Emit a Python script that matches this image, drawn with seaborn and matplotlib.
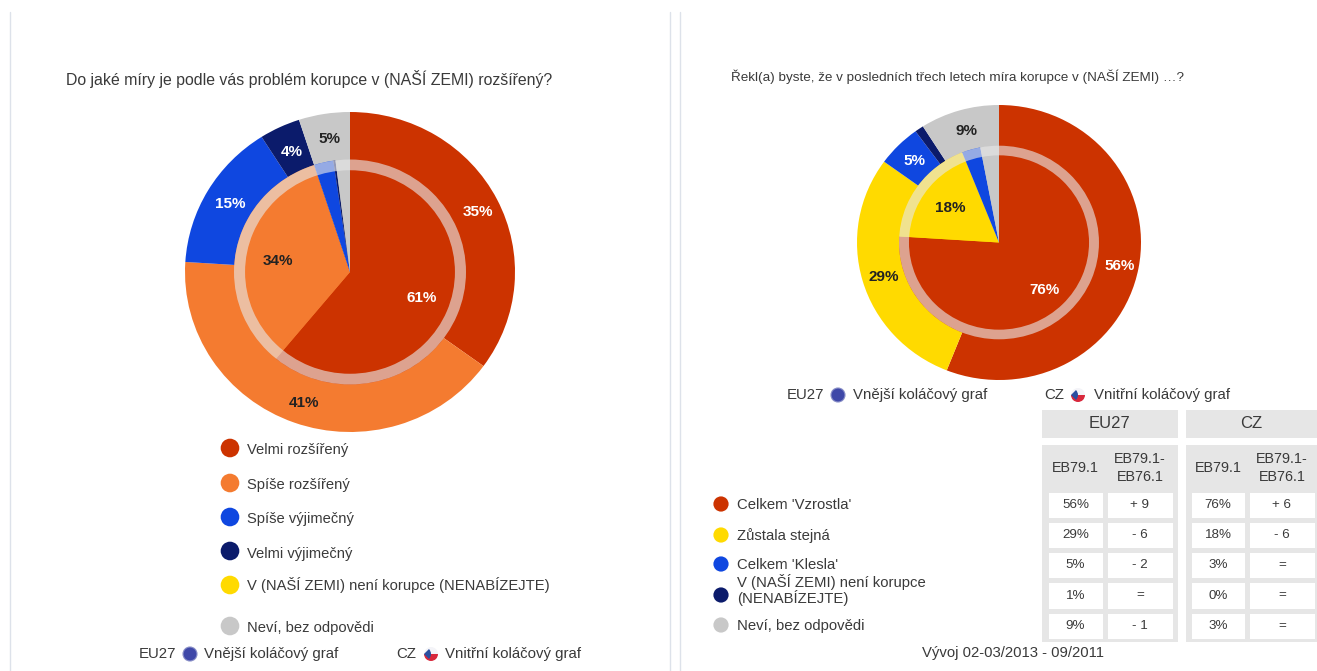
#!/usr/bin/env python3
"""Two nested corruption pie charts (EU27 outside, CZ inside) with legends and a table."""

import numpy as np
import pandas as pd
import matplotlib
matplotlib.use("Agg")
import matplotlib.pyplot as plt
from matplotlib.colors import ListedColormap
from matplotlib.patches import Circle, Rectangle, Wedge
import seaborn as sns

W, H = 1317, 671

RED = "#CC3300"
ORANGE = "#F47B30"
BLUE = "#0F47E0"
NAVY = "#0B1B6B"
YELLOW = "#FFDA00"
GREY = "#C8C8C8"
TEXT = "#3A3A3A"

# left chart
left_title = "Do jaké míry je podle vás problém korupce v (NAŠÍ ZEMI) rozšířený?"
left_categories = ["Velmi rozšířený", "Spíše rozšířený", "Spíše výjimečný", "Velmi výjimečný",
                   "V (NAŠÍ ZEMI) není korupce (NENABÍZEJTE)", "Neví, bez odpovědi"]
left_colors = [RED, ORANGE, BLUE, NAVY, YELLOW, GREY]
left_eu27 = [35, 41, 15, 4, 0, 5]
left_cz = [61, 34, 2.7, 0.3, 0, 2]

# right chart
right_title = "Řekl(a) byste, že v posledních třech letech míra korupce v (NAŠÍ ZEMI) …?"
right_categories = ["Celkem 'Vzrostla'", "Zůstala stejná", "Celkem 'Klesla'",
                    "V (NAŠÍ ZEMI) není korupce\n(NENABÍZEJTE)", "Neví, bez odpovědi"]
right_colors = [RED, YELLOW, BLUE, NAVY, GREY]
right_eu27 = [56, 29, 5, 1, 9]
right_cz = [76, 18, 3, 0, 3]

# table columns
eu27_now = ["56%", "29%", "5%", "1%", "9%"]
eu27_diff = ["+ 9", "- 6", "- 2", "=", "- 1"]
cz_now = ["76%", "18%", "3%", "0%", "3%"]
cz_diff = ["+ 6", "- 6", "=", "=", "="]

sns.set_theme(style="white")
plt.rcParams["font.family"] = ["Liberation Sans", "DejaVu Sans"]

fig = plt.figure(figsize=(W / 100, H / 100), dpi=100, facecolor="white")
# whole-figure axes in image pixels, y pointing down
ax = fig.add_axes([0, 0, 1, 1])
ax.set_xlim(0, W)
ax.set_ylim(H, 0)
ax.axis("off")


def pixel_axes(x0, y0, x1, y1):
    return fig.add_axes([x0 / W, 1 - y1 / H, (x1 - x0) / W, (y1 - y0) / H])


def nested_pie(outer, inner, colors, box, ring_r, ring_w):
    pie_ax = pixel_axes(*box)
    opts = dict(colors=colors, startangle=90, counterclock=False, wedgeprops=dict(linewidth=0))
    pie_ax.pie(outer, radius=1, **opts)
    pie_ax.pie(inner, radius=ring_r, **opts)
    pie_ax.pie([1], radius=ring_r, colors=["#E8E8E8"],
               wedgeprops=dict(width=ring_w, alpha=0.62, linewidth=0))
    # the source picture is slightly stretched sideways, so fill the box
    pie_ax.set_aspect("auto")
    pie_ax.set_xlim(-1, 1)
    pie_ax.set_ylim(-1, 1)
    pie_ax.axis("off")
    return pie_ax


nested_pie(left_eu27, left_cz, left_colors, (185, 112, 515, 432), 0.703, 0.067)
nested_pie(right_eu27, right_cz, right_colors, (857, 105, 1141, 380), 0.704, 0.07)

# percent labels, on top of the pies
label_ax = fig.add_axes([0, 0, 1, 1])
label_ax.set_xlim(0, W)
label_ax.set_ylim(H, 0)
label_ax.axis("off")
pie_labels = [
    ("35%", 478, 212, "white"), ("41%", 304, 403, "#222222"), ("15%", 230, 204, "white"),
    ("4%", 292, 152, "white"), ("5%", 329, 139, "#222222"), ("34%", 278, 261, "#222222"),
    ("61%", 422, 298, "white"),
    ("56%", 1120, 266, "white"), ("29%", 884, 277, "#222222"), ("5%", 914, 161, "white"),
    ("9%", 967, 131, "#222222"), ("18%", 950, 208, "#222222"), ("76%", 1045, 290, "white"),
]
for txt, x, y, col in pie_labels:
    label_ax.text(x, y, txt, color=col, fontsize=11, fontweight="bold", ha="center", va="center")

# panel separators
for x in [10, 670, 680]:
    ax.plot([x, x], [12, H], color="#DDE2EA", linewidth=1)

ax.text(66, 79, left_title, fontsize=11.45, color=TEXT, va="center")
ax.text(731, 77, right_title, fontsize=9.7, color=TEXT, va="center")

# legends
left_y = [448, 483, 517, 551, 585, 626]
left_text_y = [450, 485, 519, 554, 585, 628]
legend_left = pd.DataFrame({"x": 230, "y": left_y, "cat": left_categories})
sns.scatterplot(data=legend_left, x="x", y="y", hue="cat", palette=left_colors, s=180,
                linewidth=0, legend=False, ax=ax)
for y, cat in zip(left_text_y, left_categories):
    ax.text(247, y, cat, fontsize=10.65, color=TEXT, va="center")

right_y = [504, 535, 564, 595, 625]
right_text_y = [505, 536, 565, 590, 626]
legend_right = pd.DataFrame({"x": 721, "y": right_y, "cat": right_categories})
sns.scatterplot(data=legend_right, x="x", y="y", hue="cat", palette=right_colors, s=120,
                linewidth=0, legend=False, ax=ax)
for y, cat in zip(right_text_y, right_categories):
    ax.text(737, y, cat, fontsize=10.7, color=TEXT, va="center", linespacing=0.95)
ax.set_xlim(0, W)
ax.set_ylim(H, 0)
ax.axis("off")


def globe(x, y):
    ax.add_patch(Circle((x, y), 7, facecolor="#3F48A8", edgecolor="#8A90C8", linewidth=0.8))


def cz_flag(x, y):
    # y axis is inverted, so angles run clockwise on screen
    ax.add_patch(Wedge((x, y), 7, 180, 360, facecolor="#F4F4F8", linewidth=0))
    ax.add_patch(Wedge((x, y), 7, 0, 180, facecolor="#D8283C", linewidth=0))
    ax.add_patch(Wedge((x - 7, y), 7, -45, 45, facecolor="#2A4FA0", linewidth=0))


def pie_key(y, eu_x, globe_x, outer_x, cz_x, flag_x, inner_x):
    ax.text(eu_x, y, "EU27", fontsize=10.8, color=TEXT, va="center")
    globe(globe_x, y)
    ax.text(outer_x, y, "Vnější koláčový graf", fontsize=10.8, color=TEXT, va="center")
    ax.text(cz_x, y, "CZ", fontsize=10.8, color=TEXT, va="center")
    cz_flag(flag_x, y)
    ax.text(inner_x, y, "Vnitřní koláčový graf", fontsize=10.8, color=TEXT, va="center")


pie_key(654, 139, 190, 204, 396, 431, 445)
pie_key(395, 787, 838, 853, 1044, 1078, 1094)

# table
HEAD = "#E6E6E6"
for x0, x1, name in [(1042, 1178, "EU27"), (1186, 1317, "CZ")]:
    ax.add_patch(Rectangle((x0, 410), x1 - x0, 28, facecolor=HEAD, linewidth=0))
    ax.text((x0 + x1) / 2, 424, name, fontsize=12, color=TEXT, ha="center", va="center")
    ax.add_patch(Rectangle((x0, 445), x1 - x0, 197, facecolor=HEAD, linewidth=0))


def table_column(labels, x0, x1, head):
    col_ax = pixel_axes(x0, 489.5, x1, 641)
    sns.heatmap(np.zeros((len(labels), 1)), annot=np.array(labels)[:, None], fmt="", cbar=False,
                cmap=ListedColormap(["white"]), linewidths=3.5, linecolor=HEAD,
                xticklabels=False, yticklabels=False, ax=col_ax,
                annot_kws=dict(fontsize=9.6, color=TEXT))
    ax.text((x0 + x1) / 2, 468, head, fontsize=10.4, color=TEXT, ha="center", va="center",
            linespacing=1.45)


table_column(eu27_now, 1046, 1105, "EB79.1")
table_column(eu27_diff, 1105, 1175, "EB79.1-\nEB76.1")
table_column(cz_now, 1189, 1247, "EB79.1")
table_column(cz_diff, 1247, 1317, "EB79.1-\nEB76.1")

ax.text(1013, 653, "Vývoj 02-03/2013 - 09/2011", fontsize=10.7, color=TEXT, ha="center", va="center")

fig.savefig("out.png", dpi=100)
